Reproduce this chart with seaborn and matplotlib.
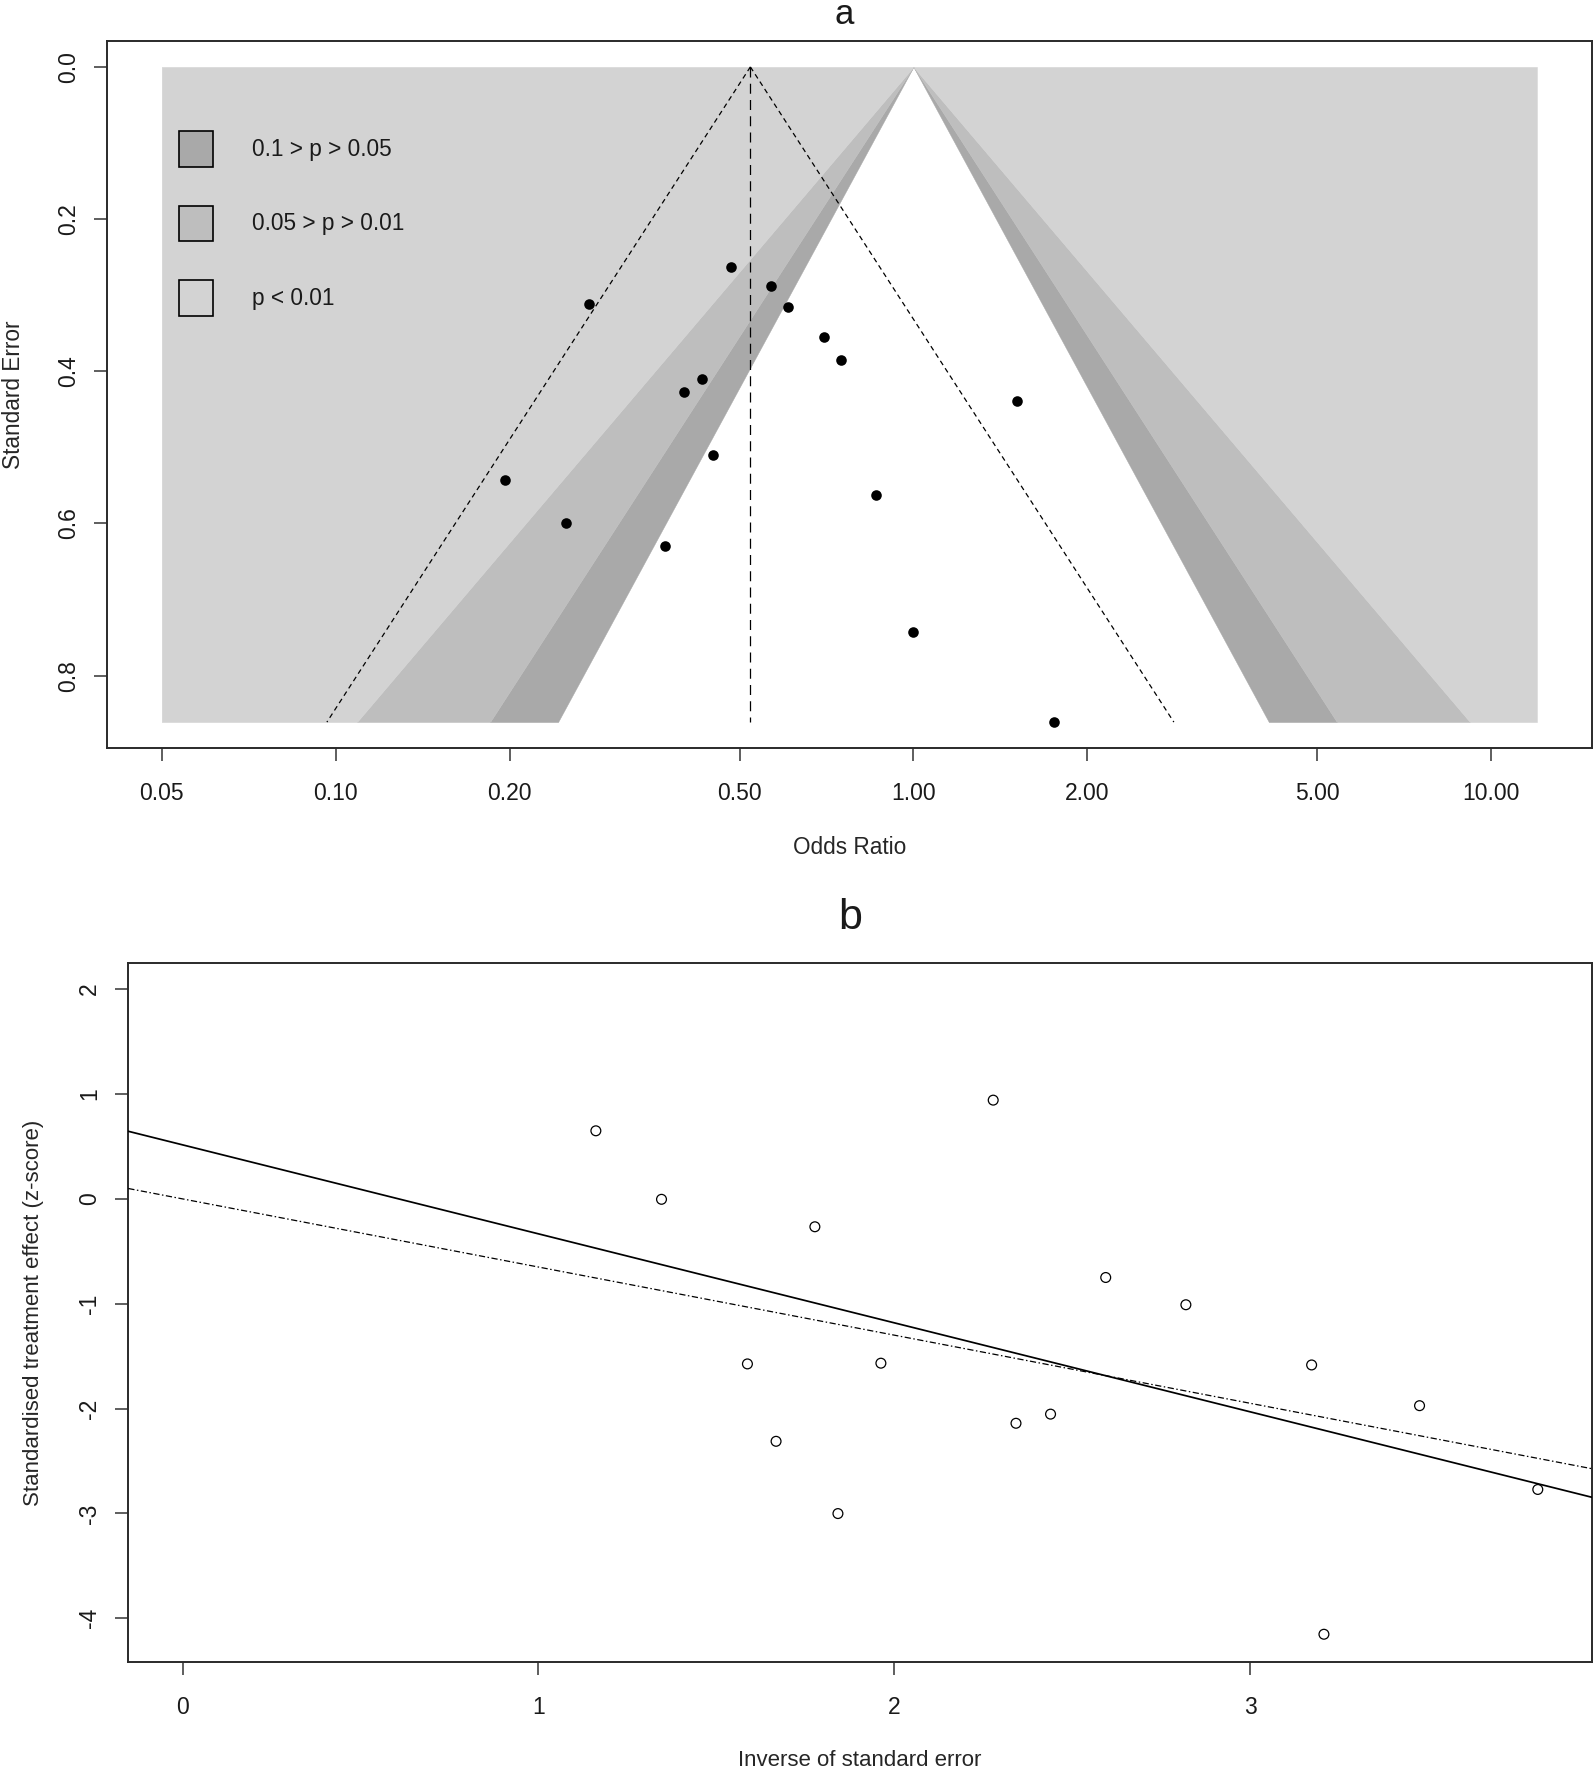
import numpy as np
import matplotlib
matplotlib.use("Agg")
import matplotlib.pyplot as plt
from matplotlib.patches import Patch
from matplotlib.ticker import NullLocator
import seaborn as sns

# ---------------- data ----------------
odds_ratio = [0.483, 0.567, 0.607, 0.274, 0.699, 0.749, 0.431, 0.401,
              1.512, 0.450, 0.196, 0.861, 0.250, 0.371, 0.997, 1.749]
std_error = [0.2626, 0.2877, 0.3152, 0.3118, 0.3547, 0.3855, 0.410, 0.427,
             0.439, 0.5096, 0.543, 0.5628, 0.5996, 0.630, 0.743, 0.861]

or_axis_range = [0.05, 12.0]                     # extent of the shaded contour area
or_ticks = [0.05, 0.10, 0.20, 0.50, 1.00, 2.00, 5.00, 10.00]
or_tick_labels = ["0.05", "0.10", "0.20", "0.50", "1.00", "2.00", "5.00", "10.00"]
se_ticks = [0.0, 0.2, 0.4, 0.6, 0.8]

# contour bands; white inside z = 1.645
contour_z = [1.645, 1.960, 2.576]                # 90 %, 95 %, 99 % limits
band_colors = ["#A9A9A9", "#BEBEBE", "#D3D3D3"]  # darkgray, gray, lightgray
legend_labels = ["0.1 > p > 0.05", "0.05 > p > 0.01", "p < 0.01"]

z_ticks = [-4, -3, -2, -1, 0, 1, 2]
z_range = [-4.17, 2.0]
inv_se_ticks = [0, 1, 2, 3]

# ---------------- derived quantities ----------------
or_arr = np.array(odds_ratio)
se_arr = np.array(std_error)
log_or = np.log(or_arr)
inv_se = 1.0 / se_arr
z_score = log_or / se_arr
weights = 1.0 / se_arr ** 2
pooled = np.sum(weights * log_or) / np.sum(weights)   # fixed-effect log OR
se_max = se_arr.max()

# ---------------- style ----------------
sns.set_style("white")
plt.rcParams["font.family"] = ["Liberation Sans", "DejaVu Sans"]
plt.rcParams["axes.unicode_minus"] = False
TXT = "#1a1a1a"
plt.rcParams["text.color"] = TXT
plt.rcParams["xtick.color"] = "#333333"
plt.rcParams["ytick.color"] = "#333333"
plt.rcParams["xtick.labelcolor"] = TXT
plt.rcParams["ytick.labelcolor"] = TXT

fig = plt.figure(figsize=(15.94, 17.70), dpi=100)
W, H = 1594.0, 1770.0

def axes_px(left, top, right, bottom):
    return [left / W, 1 - bottom / H, (right - left) / W, (bottom - top) / H]

ax1 = fig.add_axes(axes_px(106.7, 40.7, 1592.0, 748.3))
ax2 = fig.add_axes(axes_px(128.3, 963.3, 1592.0, 1662.0))

def style_axes(ax, tick_size=16.5):
    for s in ax.spines.values():
        s.set_visible(True)
        s.set_color("#2a2a2a")
        s.set_linewidth(1.4)
    ax.tick_params(axis="both", which="major", direction="out", length=9.4,
                   width=1.1, labelsize=tick_size, bottom=True, left=True,
                   top=False, right=False)
    ax.tick_params(axis="x", pad=15)
    ax.tick_params(axis="y", pad=10, labelrotation=90)

# ================= panel a : contour-enhanced funnel plot =================
ax1.set_xscale("log")
lo, hi = np.log10(or_axis_range[0]), np.log10(or_axis_range[1])
pad = 0.04 * (hi - lo)
ax1.set_xlim(10 ** (lo - pad), 10 ** (hi + pad))
ax1.set_ylim(1.04 * se_max, -0.04 * se_max)

se_grid = np.linspace(0, se_max, 200)
for i, col in enumerate(band_colors):
    z_in = contour_z[i]
    z_out = contour_z[i + 1] if i + 1 < len(contour_z) else None
    inner_l = np.exp(-z_in * se_grid)
    inner_r = np.exp(z_in * se_grid)
    if z_out is None:
        outer_l = np.full_like(se_grid, or_axis_range[0])
        outer_r = np.full_like(se_grid, or_axis_range[1])
    else:
        outer_l = np.exp(-z_out * se_grid)
        outer_r = np.exp(z_out * se_grid)
    ax1.fill_betweenx(se_grid, outer_l, inner_l, color=col, lw=0.3,
                      edgecolor=col, zorder=2 + i)
    ax1.fill_betweenx(se_grid, inner_r, outer_r, color=col, lw=0.3,
                      edgecolor=col, zorder=2 + i)

# pseudo confidence funnel around pooled estimate
ax1.plot(np.exp(pooled - 1.96 * se_grid), se_grid, color="black", lw=0.9,
         ls=(0, (4, 3)), zorder=6)
ax1.plot(np.exp(pooled + 1.96 * se_grid), se_grid, color="black", lw=0.9,
         ls=(0, (4, 3)), zorder=6)
ax1.plot([np.exp(pooled)] * 2, [0, se_max], color="black", lw=0.9,
         ls=(0, (8, 5)), zorder=6)

sns.scatterplot(x=or_arr, y=se_arr, ax=ax1, color="black", s=58,
                linewidth=0, zorder=7, legend=False)

ax1.set_xticks(or_ticks)
ax1.set_xticklabels(or_tick_labels)
ax1.xaxis.set_minor_locator(NullLocator())
ax1.set_yticks(se_ticks)
ax1.set_yticklabels([f"{v:.1f}" for v in se_ticks])
style_axes(ax1)
for lbl in ax1.get_yticklabels():
    lbl.set_va("center")

ax1.set_xlabel("Odds Ratio", fontsize=16.3, va="center")
ax1.xaxis.set_label_coords(0.5, -98.7 / 707.6)
ax1.set_ylabel("Standard Error", fontsize=16.3, va="center")
ax1.yaxis.set_label_coords(-93.0 / 1485.3, 0.5)

handles = [Patch(facecolor=c, edgecolor="black", lw=1.2) for c in band_colors]
ax1.legend(handles, legend_labels, loc="upper left",
           bbox_to_anchor=(179 / W, 1 - 131 / H), bbox_transform=fig.transFigure,
           frameon=False, fontsize=16.3, handlelength=1.48, handleheight=2.04,
           handletextpad=1.75, labelspacing=1.72, borderpad=0, borderaxespad=0)

fig.text(843.8 / W, 1 - 15 / H, "a", ha="center", va="center", fontsize=25)

# ================= panel b : Galbraith / radial plot =================
xmax = inv_se.max()
ax2.set_xlim(-0.04 * xmax, 1.04 * xmax)
zr = z_range[1] - z_range[0]
ax2.set_ylim(z_range[0] - 0.04 * zr, z_range[1] + 0.04 * zr)

# Egger regression line (z on 1/SE)
sns.regplot(x=inv_se, y=z_score, ax=ax2, scatter=False, ci=None,
            truncate=False, color="black", line_kws=dict(lw=1.25, zorder=3))
# line through origin with slope = pooled estimate
xl = np.array(ax2.get_xlim())
ax2.plot(xl, pooled * xl, color="black", lw=0.9, ls=(0, (5, 2, 1.2, 2)),
         zorder=3)

sns.scatterplot(x=inv_se, y=z_score, ax=ax2, marker="o", s=50,
                facecolors="none", edgecolor="black", linewidth=0.9,
                zorder=5, legend=False)

ax2.set_xlim(-0.04 * xmax, 1.04 * xmax)
ax2.set_ylim(z_range[0] - 0.04 * zr, z_range[1] + 0.04 * zr)
ax2.set_xticks(inv_se_ticks)
ax2.set_xticklabels([str(v) for v in inv_se_ticks])
ax2.set_yticks(z_ticks)
ax2.set_yticklabels([str(v) for v in z_ticks])
style_axes(ax2)
for lbl in ax2.get_yticklabels():
    lbl.set_va("center")

ax2.set_xlabel("Inverse of standard error", fontsize=16, va="center")
ax2.xaxis.set_label_coords(0.5, -98.0 / 698.7)
ax2.set_ylabel("Standardised treatment effect (z-score)", fontsize=16, va="center")
ax2.yaxis.set_label_coords(-94.3 / 1463.7, 0.5)

fig.text(850 / W, 1 - 918 / H, "b", ha="center", va="center", fontsize=31)

fig.savefig("out.png", dpi=100)
